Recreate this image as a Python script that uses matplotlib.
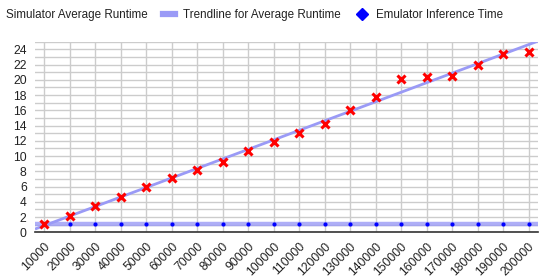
import matplotlib
matplotlib.use('Agg')
import matplotlib.pyplot as plt
from matplotlib.lines import Line2D
import numpy as np

plt.rcParams['font.family'] = ['Liberation Sans', 'DejaVu Sans']

# data
sizes = [10000, 20000, 30000, 40000, 50000, 60000, 70000, 80000, 90000, 100000,
         110000, 120000, 130000, 140000, 150000, 160000, 170000, 180000, 190000, 200000]
sim_runtime = [1.05, 2.18, 3.45, 4.67, 5.94, 7.07, 8.17, 9.25, 10.66, 11.83,
               13.0, 14.15, 16.03, 17.69, 20.09, 20.35, 20.44, 21.97, 23.4, 23.67]
emu_time = [1.15] * 20
y_ticks = np.arange(0, 25, 2)

sizes = np.array(sizes)
fs = 8.7      # tick labels
fs_leg = 8.4  # legend
em = fs_leg * 100 / 72  # legend font size in px
trend_color = '#9a9af6'

fig = plt.figure(figsize=(5.47, 2.80), dpi=100)
ax = fig.add_axes([35 / 547, 47.7 / 280, (538 - 35) / 547, (232.3 - 41.7) / 280])

xlim = (6300, 203700)
# trendlines (linear fits)
xx = np.array(xlim)
k, b = np.polyfit(sizes, sim_runtime, 1)
ax.plot(xx, k * xx + b, color=trend_color, lw=2.0, zorder=2, solid_capstyle='butt')
k2, b2 = np.polyfit(sizes, emu_time, 1)
ax.plot(xx, k2 * xx + b2, color=trend_color, lw=3.2, alpha=0.8, zorder=2, solid_capstyle='butt')

ax.plot(sizes, sim_runtime, ls='none', marker='x', color='red', ms=5.5, mew=2.2, zorder=4)
ax.plot(sizes, emu_time, ls='none', marker='o', color='blue', ms=3, mew=0, zorder=3)

ax.set_xlim(*xlim)
ax.set_ylim(0, 25)
ax.set_xticks(sizes)
ax.set_xticklabels([str(s) for s in sizes], rotation=45, ha='right', va='top',
                   rotation_mode='anchor', fontsize=fs, color='#222222')
ax.set_yticks(y_ticks)
ax.set_yticks(np.arange(1, 26, 2), minor=True)
ax.set_yticklabels([str(t) for t in y_ticks], fontsize=fs, color='#222222')
ax.tick_params(axis='both', which='both', length=0)
ax.tick_params(axis='y', pad=6)
ax.tick_params(axis='x', pad=6)
ax.grid(True, which='both', color='#cccccc', lw=1)
ax.set_axisbelow(True)
for s in ['left', 'right', 'top']:
    ax.spines[s].set_visible(False)
ax.spines['bottom'].set_color('#333333')
ax.spines['bottom'].set_linewidth(1.2)
ax.spines['bottom'].set_zorder(5)

handles = [
    Line2D([], [], ls='none'),
    Line2D([], [], color=trend_color, lw=4.5),
    Line2D([], [], ls='none', marker='D', color='blue', ms=6),
]
labels = ['Simulator Average Runtime', 'Trendline for Average Runtime', 'Emulator Inference Time']
fig.legend(handles, labels, loc='center left', bbox_to_anchor=(-14 / 547, 1 - 15 / 280),
           ncol=3, frameon=False, fontsize=fs_leg, handlelength=12 / em, handletextpad=8 / em,
           columnspacing=15 / em, borderpad=0, borderaxespad=0, labelcolor='#222222')

fig.savefig('out.png', dpi=100)
